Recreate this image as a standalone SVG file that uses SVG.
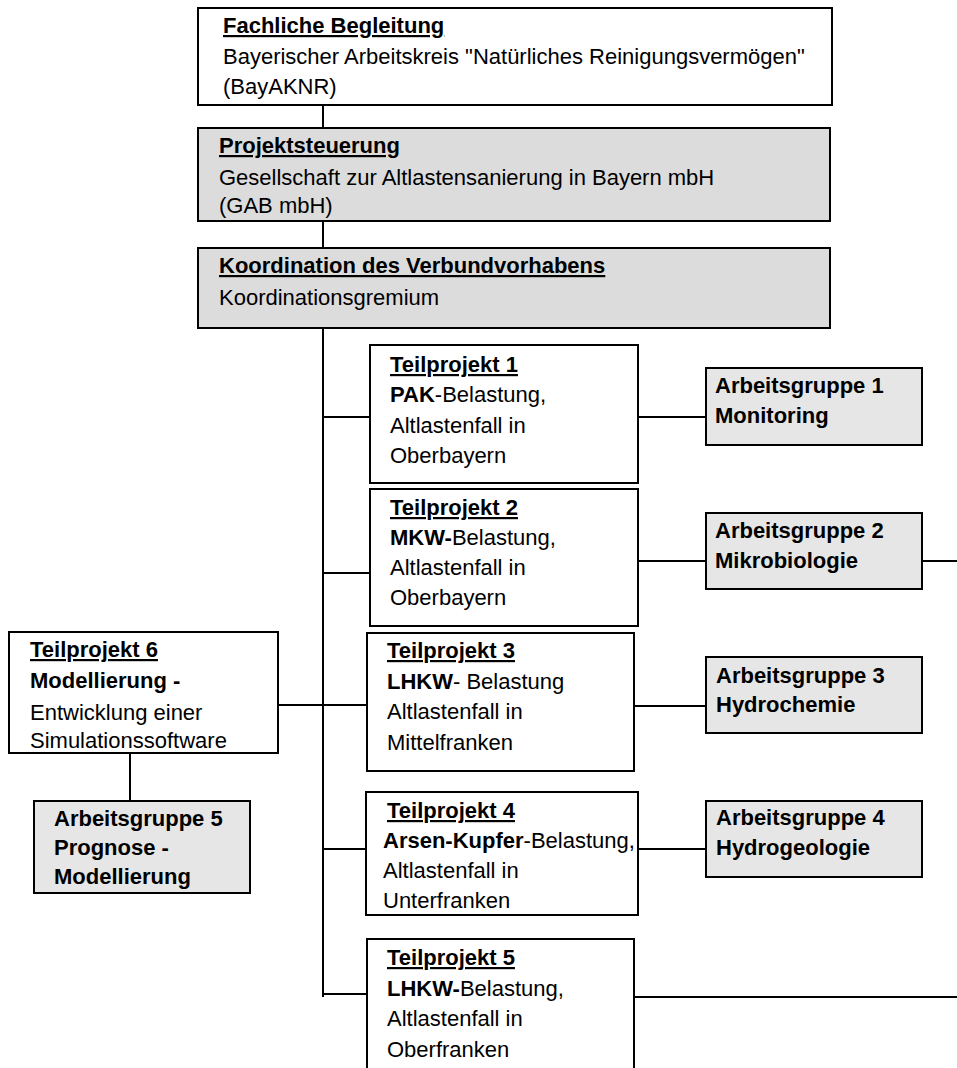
<svg xmlns="http://www.w3.org/2000/svg" width="957" height="1068" viewBox="0 0 957 1068">
<style>
.box{stroke:#000;stroke-width:2;fill:#fff}
.gray{fill:#dcdcdc}
.ag{fill:#e6e6e6}
.t{font-family:"Liberation Sans",Arial,sans-serif;font-size:22px;fill:#000}
.b{font-weight:bold}
.u{text-decoration:underline}
.c{stroke:#000;stroke-width:2;fill:none}
</style>
<rect width="957" height="1068" fill="#fff"/>
<g id="connectors">
<path class="c" d="M323 105V128M323 221V248M323 328V997"/>
<path class="c" d="M323 417H370M323 573H370M273 705H371M323 849H371M323 994H371"/>
<path class="c" d="M638 417H706M638 561H706M922 561H957M634 706H706M638 849H706M634 997H957"/>
<path class="c" d="M130 753V801"/>
</g>
<g id="fachliche">
<rect class="box" x="198" y="8" width="634" height="97"/>
<text class="t b u" x="223" y="33">Fachliche Begleitung</text>
<text class="t" x="223" y="64">Bayerischer Arbeitskreis "Natürliches Reinigungsvermögen"</text>
<text class="t" x="223" y="94">(BayAKNR)</text>
</g>
<g id="projektsteuerung">
<rect class="box gray" x="198" y="128" width="632" height="93"/>
<text class="t b u" x="219" y="153">Projektsteuerung</text>
<text class="t" x="219" y="185">Gesellschaft zur Altlastensanierung in Bayern mbH</text>
<text class="t" x="219" y="213">(GAB mbH)</text>
</g>
<g id="koordination">
<rect class="box gray" x="198" y="248" width="632" height="80"/>
<text class="t b u" x="219" y="273">Koordination des Verbundvorhabens</text>
<text class="t" x="219" y="305">Koordinationsgremium</text>
</g>
<g id="tp1">
<rect class="box" x="370" y="345" width="268" height="138"/>
<text class="t b u" x="390" y="372">Teilprojekt 1</text>
<text class="t" x="390" y="402"><tspan class="b">PAK</tspan>-Belastung,</text>
<text class="t" x="390" y="433">Altlastenfall in</text>
<text class="t" x="390" y="463">Oberbayern</text>
</g>
<g id="tp2">
<rect class="box" x="370" y="489" width="268" height="137"/>
<text class="t b u" x="390" y="515">Teilprojekt 2</text>
<text class="t" x="390" y="545"><tspan class="b">MKW-</tspan>Belastung,</text>
<text class="t" x="390" y="575">Altlastenfall in</text>
<text class="t" x="390" y="605">Oberbayern</text>
</g>
<g id="tp3">
<rect class="box" x="367" y="633" width="267" height="138"/>
<text class="t b u" x="387" y="658">Teilprojekt 3</text>
<text class="t" x="387" y="689"><tspan class="b">LHKW</tspan>- Belastung</text>
<text class="t" x="387" y="719">Altlastenfall in</text>
<text class="t" x="387" y="750">Mittelfranken</text>
</g>
<g id="tp4">
<rect class="box" x="366" y="792" width="272" height="123"/>
<text class="t b u" x="387" y="818">Teilprojekt 4</text>
<text class="t" x="383" y="848"><tspan class="b">Arsen-Kupfer</tspan>-Belastung,</text>
<text class="t" x="383" y="878">Altlastenfall in</text>
<text class="t" x="383" y="908">Unterfranken</text>
</g>
<g id="tp5">
<rect class="box" x="367" y="939" width="267" height="140"/>
<text class="t b u" x="387" y="965">Teilprojekt 5</text>
<text class="t" x="387" y="996"><tspan class="b">LHKW-</tspan>Belastung,</text>
<text class="t" x="387" y="1026">Altlastenfall in</text>
<text class="t" x="387" y="1057">Oberfranken</text>
</g>
<g id="tp6">
<rect class="box" x="9" y="632" width="269" height="121"/>
<text class="t b u" x="30" y="657">Teilprojekt 6</text>
<text class="t b" x="30" y="688">Modellierung -</text>
<text class="t" x="30" y="720">Entwicklung einer</text>
<text class="t" x="30" y="748">Simulationssoftware</text>
</g>
<g id="ag1">
<rect class="box ag" x="706" y="368" width="216" height="77"/>
<text class="t b" x="715" y="393">Arbeitsgruppe 1</text>
<text class="t b" x="715" y="423">Monitoring</text>
</g>
<g id="ag2">
<rect class="box ag" x="706" y="513" width="216" height="76"/>
<text class="t b" x="715" y="538">Arbeitsgruppe 2</text>
<text class="t b" x="715" y="568">Mikrobiologie</text>
</g>
<g id="ag3">
<rect class="box ag" x="706" y="657" width="216" height="76"/>
<text class="t b" x="716" y="683">Arbeitsgruppe 3</text>
<text class="t b" x="716" y="712">Hydrochemie</text>
</g>
<g id="ag4">
<rect class="box ag" x="706" y="801" width="216" height="76"/>
<text class="t b" x="716" y="825">Arbeitsgruppe 4</text>
<text class="t b" x="716" y="855">Hydrogeologie</text>
</g>
<g id="ag5">
<rect class="box ag" x="34" y="801" width="216" height="92"/>
<text class="t b" x="54" y="826">Arbeitsgruppe 5</text>
<text class="t b" x="54" y="855">Prognose -</text>
<text class="t b" x="54" y="884">Modellierung</text>
</g>
</svg>
